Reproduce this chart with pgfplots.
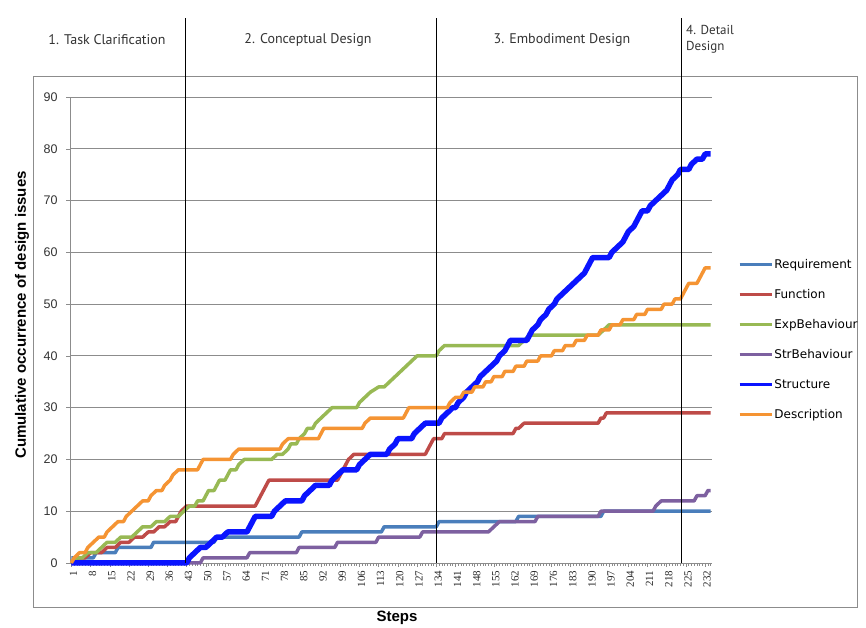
\documentclass[border=0pt]{standalone}
\usepackage{pgfplots}
\pgfplotsset{compat=1.18}
\usepackage{fontspec}
\setmainfont{Liberation Sans}
\newfontfamily\serifnum{Liberation Serif}
\newfontfamily\phasefont{PT Sans}
\newfontfamily\legfont{DejaVu Sans}
\definecolor{creq}{HTML}{4A7EBB}
\definecolor{cfun}{HTML}{BE4B48}
\definecolor{cexp}{HTML}{98B954}
\definecolor{cstr}{HTML}{7D60A0}
\definecolor{cstruct}{HTML}{0A14FF}
\definecolor{cdesc}{HTML}{F59433}
\definecolor{cgrid}{HTML}{8C8C8C}
\begin{document}
\begin{tikzpicture}[x=1pt,y=1pt]
\useasboundingbox (0,0) rectangle (866,628);
\draw[cgrid, line width=0.8pt] (33,21) rectangle (857,552);
\begin{axis}[
  at={(70pt,65pt)}, anchor=south west,
  scale only axis, width=642pt, height=466pt,
  xmin=0.5, xmax=234.5, ymin=0, ymax=90,
  axis x line*=bottom, axis y line*=left,
  axis line style={cgrid, line width=0.8pt},
  clip=false,
  ytick={0,10,...,90},
  xtick={1,8,...,232},
  minor xtick={1,2,...,234},
  tick align=outside,
  major tick length=4pt, minor tick length=3pt,
  tick style={cgrid, line width=0.5pt},
  ymajorgrids, grid style={cgrid, line width=0.8pt},
  yticklabel style={font=\fontsize{12.5}{12.5}\selectfont, text=black!80, xshift=-5pt},
  xticklabel style={rotate=90, anchor=east, font=\serifnum\fontsize{11}{11}\selectfont, text=black!85, yshift=-2pt},
  /pgf/number format/assume math mode=true,
  legend style={at={(1.04,0.655)}, anchor=north west, draw=none, fill=none,
    font=\legfont\fontsize{12}{12}\selectfont, row sep=17.5pt, inner sep=0pt,
    nodes={inner sep=1pt}},
  legend cell align=left,
  legend image code/.code={\draw[#1, line width=3.5pt] (0pt,0pt) -- (32pt,0pt);},
  every axis plot/.append style={line join=round, no marks},
]
\addplot[creq, line width=3.5pt] coordinates {(1,1) (9,1) (10,2) (17,2) (18,3) (30,3) (31,4) (53,4) (54,5) (84,5) (85,6) (114,6) (115,7) (134,7) (135,8) (163,8) (164,9) (194,9) (195,10) (234,10)};
\addlegendentry{Requirement}
\addplot[cfun, line width=3.5pt] coordinates {(1,0) (2,0) (3,1) (6,1) (8,2) (12,2) (14,3) (17,3) (19,4) (22,4) (24,5) (27,5) (29,6) (31,6) (33,7) (35,7) (37,8) (39,8) (40,9) (41,10) (43,11) (68,11) (69,12) (70,13) (71,14) (72,15) (73,16) (98,16) (99,17) (100,18) (101,19) (102,20) (104,21) (130,21) (131,22) (132,23) (133,24) (136,24) (137,25) (162,25) (163,26) (164,26) (166,27) (193,27) (194,28) (195,28) (196,29) (234,29)};
\addlegendentry{Function}
\addplot[cexp, line width=3.5pt] coordinates {(1,0) (3,1) (5,1) (7,2) (10,2) (12,3) (14,4) (17,4) (19,5) (23,5) (25,6) (27,7) (30,7) (32,8) (35,8) (37,9) (40,9) (42,10) (44,11) (46,11) (47,12) (49,12) (50,13) (51,14) (53,14) (54,15) (55,16) (57,16) (58,17) (59,18) (61,18) (62,19) (64,20) (74,20) (76,21) (78,21) (80,22) (81,23) (83,23) (84,24) (86,25) (87,26) (89,26) (90,27) (92,28) (94,29) (96,30) (105,30) (106,31) (108,32) (110,33) (113,34) (115,34) (117,35) (119,36) (121,37) (123,38) (125,39) (127,40) (134,40) (135,41) (137,42) (164,42) (166,43) (168,44) (193,44) (195,45) (197,46) (234,46)};
\addlegendentry{ExpBehaviour}
\addplot[cstr, line width=3.5pt] coordinates {(1,0) (48,0) (49,1) (65,1) (66,2) (83,2) (84,3) (97,3) (98,4) (112,4) (113,5) (128,5) (129,6) (153,6) (155,7) (157,8) (170,8) (171,9) (193,9) (194,10) (213,10) (214,11) (216,12) (228,12) (229,13) (232,13) (233,14) (234,14)};
\addlegendentry{StrBehaviour}
\addplot[cstruct, line width=5.5pt] coordinates {(1,0) (43,0) (44,1) (46,2) (48,3) (50,3) (52,4) (54,5) (56,5) (58,6) (65,6) (66,7) (67,8) (68,9) (74,9) (75,10) (77,11) (79,12) (85,12) (86,13) (88,14) (90,15) (95,15) (96,16) (98,17) (100,18) (105,18) (106,19) (108,20) (110,21) (116,21) (117,22) (119,23) (120,24) (125,24) (126,25) (128,26) (130,27) (135,27) (136,28) (138,29) (140,30) (141,30) (142,31) (144,32) (145,33) (147,34) (149,35) (150,36) (152,37) (154,38) (156,39) (157,40) (159,41) (160,42) (161,43) (167,43) (168,44) (169,45) (171,46) (172,47) (174,48) (175,49) (177,50) (178,51) (180,52) (182,53) (184,54) (186,55) (188,56) (189,57) (190,58) (191,59) (197,59) (198,60) (200,61) (202,62) (203,63) (204,64) (206,65) (207,66) (208,67) (209,68) (211,68) (212,69) (214,70) (216,71) (218,72) (219,73) (220,74) (222,75) (223,76) (226,76) (227,77) (229,78) (231,78) (232,79) (234,79)};
\addlegendentry{Structure}
\addplot[cdesc, line width=3.5pt] coordinates {(1,0) (2,1) (4,2) (6,2) (7,3) (9,4) (11,5) (13,5) (14,6) (16,7) (18,8) (20,8) (21,9) (23,10) (25,11) (27,12) (29,12) (30,13) (32,14) (34,14) (35,15) (37,16) (38,17) (40,18) (47,18) (48,19) (49,20) (59,20) (60,21) (62,22) (77,22) (78,23) (80,24) (91,24) (92,25) (93,26) (107,26) (108,27) (110,28) (122,28) (123,29) (124,30) (138,30) (139,31) (141,32) (143,32) (144,33) (147,33) (148,34) (151,34) (152,35) (154,35) (155,36) (158,36) (159,37) (162,37) (163,38) (166,38) (167,39) (171,39) (172,40) (176,40) (177,41) (180,41) (181,42) (184,42) (185,43) (188,43) (189,44) (193,44) (194,45) (197,45) (198,46) (201,46) (202,47) (206,47) (207,48) (210,48) (211,49) (216,49) (217,50) (220,50) (221,51) (223,51) (224,52) (225,53) (226,54) (229,54) (230,55) (231,56) (232,57) (234,57)};
\addlegendentry{Description}
\draw[black, line width=0.8pt] (axis cs:42.4,0) -- (axis cs:42.4,105.3);
\draw[black, line width=0.8pt] (axis cs:133.9,0) -- (axis cs:133.9,105.3);
\draw[black, line width=0.8pt] (axis cs:223.2,0) -- (axis cs:223.2,105.3);
\end{axis}
\node[font=\phasefont\fontsize{14}{16}\selectfont, text=black!80] at (107,588) {1. Task Clarification};
\node[font=\phasefont\fontsize{14}{16}\selectfont, text=black!80] at (308,588) {2. Conceptual Design};
\node[font=\phasefont\fontsize{14}{16}\selectfont, text=black!80] at (562,588) {3. Embodiment Design};
\node[font=\phasefont\fontsize{13}{16}\selectfont, text=black!80, anchor=north west, align=left, inner sep=0pt] at (686,603) {4. Detail\\Design};
\node[font=\bfseries\fontsize{15}{15}\selectfont, rotate=90] at (22,313) {Cumulative occurrence of design issues};
\node[font=\bfseries\fontsize{15}{15}\selectfont] at (397,10) {Steps};
\end{tikzpicture}
\end{document}
